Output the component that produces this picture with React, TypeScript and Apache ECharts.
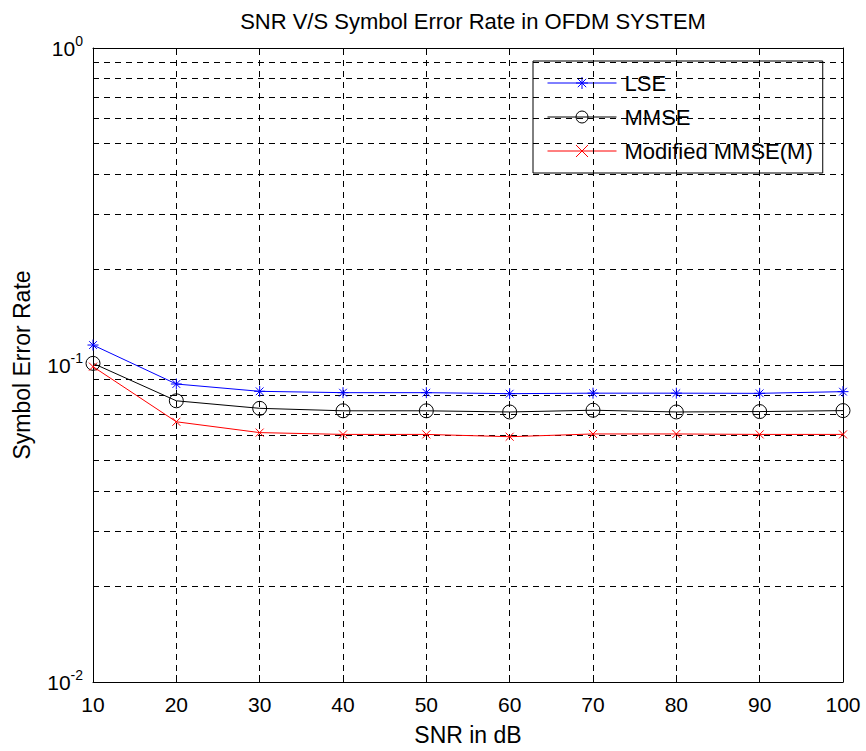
import React, { useEffect, useRef } from "react";
import * as echarts from "echarts";

const snr = [10, 20, 30, 40, 50, 60, 70, 80, 90, 100];
const lse = [0.1156, 0.0871, 0.0826, 0.0818, 0.0818, 0.0812, 0.0815, 0.0815, 0.0814, 0.0824];
const mmse = [0.1012, 0.0771, 0.073, 0.0717, 0.0717, 0.0711, 0.072, 0.0711, 0.0713, 0.0718];
const modMmse = [0.0988, 0.0662, 0.0612, 0.0604, 0.0604, 0.0594, 0.0606, 0.0606, 0.0604, 0.0604];
const yGrid = [0.02, 0.03, 0.04, 0.05, 0.06, 0.07, 0.08, 0.09, 0.1, 0.2, 0.3, 0.4, 0.5, 0.6, 0.7, 0.8, 0.9];
const xGrid = [20, 30, 40, 50, 60, 70, 80, 90];
const seriesNames = ["LSE", "MMSE", "Modified MMSE(M)"];
const titleText = "SNR V/S Symbol Error Rate in OFDM SYSTEM";
const xName = "SNR in dB";
const yName = "Symbol Error Rate";

const FONT = "'Liberation Sans', Arial, sans-serif";
const ASTERISK = "path://M0,-1L0,1M-1,0L1,0M-0.7,-0.7L0.7,0.7M-0.7,0.7L0.7,-0.7";
const CROSS = "path://M-1,-1L1,1M-1,1L1,-1";
const CIRCLE = "path://M1,0A1,1,0,1,1,-1,0A1,1,0,1,1,1,0Z";
const DASH = [6, 5];

export default function App() {
  const ref = useRef<HTMLDivElement>(null);
  useEffect(() => {
    if (!ref.current) return;
    const chart = echarts.init(ref.current, null, { renderer: "svg" });
    const pair = (ys: number[]) => snr.map((x, i) => [x, ys[i]]);
    chart.setOption({
      animation: false,
      backgroundColor: "#fff",
      textStyle: { fontFamily: FONT },
      title: {
        text: titleText,
        left: 468,
        top: 5,
        textAlign: "center",
        textStyle: { fontFamily: FONT, fontSize: 22, fontWeight: "normal", color: "#000" },
      },
      legend: {
        orient: "vertical",
        left: 533,
        top: 61,
        padding: [11, 10, 11, 14],
        itemWidth: 69,
        itemHeight: 15,
        itemGap: 12,
        borderColor: "#000",
        borderWidth: 1,
        backgroundColor: "#fff",
        data: seriesNames,
        itemStyle: { borderWidth: 1 },
        lineStyle: { width: 1 },
        textStyle: { fontFamily: FONT, fontSize: 22, color: "#000", lineHeight: 22, padding: [0, 0, 0, 3] },
      },
      grid: { left: 93, right: 23, top: 48, bottom: 69, show: false },
      xAxis: [
        {
          type: "value",
          min: 10,
          max: 100,
          interval: 10,
          name: xName,
          nameLocation: "middle",
          nameGap: 41,
          nameTextStyle: { fontFamily: FONT, fontSize: 23, color: "#000" },
          axisLine: { show: true, lineStyle: { color: "#000", width: 1 } },
          axisTick: { show: true, inside: true, length: 7, lineStyle: { color: "#000" } },
          axisLabel: { fontFamily: FONT, fontSize: 21, color: "#000", margin: 12 },
          splitLine: { show: false },
        },
        {
          type: "value",
          position: "top",
          min: 10,
          max: 100,
          interval: 10,
          axisLine: { show: true, lineStyle: { color: "#000", width: 1 } },
          axisTick: { show: true, inside: true, length: 7, lineStyle: { color: "#000" } },
          axisLabel: { show: false },
          splitLine: { show: false },
        },
      ],
      yAxis: [
        {
          type: "log",
          logBase: 10,
          min: 0.01,
          max: 1,
          name: yName,
          nameLocation: "middle",
          nameGap: 60,
          nameTextStyle: { fontFamily: FONT, fontSize: 23, color: "#000" },
          axisLine: { show: true, lineStyle: { color: "#000", width: 1 } },
          axisTick: { show: true, inside: true, length: 7, lineStyle: { color: "#000" } },
          axisLabel: {
            margin: 10,
            formatter: (v: number) => `{b|10}{s|${Math.round(Math.log10(v))}}`,
            rich: {
              b: { fontFamily: FONT, fontSize: 21, color: "#000" },
              s: { fontFamily: FONT, fontSize: 14, color: "#000", padding: [0, 0, 14, 0] },
            },
          },
          splitLine: { show: false },
        },
        {
          type: "log",
          logBase: 10,
          min: 0.01,
          max: 1,
          position: "right",
          axisLine: { show: true, lineStyle: { color: "#000", width: 1 } },
          axisTick: { show: true, inside: true, length: 7, lineStyle: { color: "#000" } },
          axisLabel: { show: false },
          splitLine: { show: false },
        },
      ],
      series: [
        {
          name: "grid-lines",
          type: "line",
          data: [],
          z: 1,
          silent: true,
          markLine: {
            silent: true,
            symbol: "none",
            label: { show: false },
            lineStyle: { type: DASH, color: "#000", width: 1 },
            data: [
              ...yGrid.map((v) => ({ yAxis: v })),
              ...xGrid.map((v) => ({ xAxis: v })),
            ],
          },
        },
        {
          name: seriesNames[0],
          type: "line",
          data: pair(lse),
          z: 5,
          symbol: ASTERISK,
          symbolSize: 11,
          lineStyle: { color: "#0000ff", width: 1 },
          itemStyle: { color: "#0000ff", borderColor: "#0000ff", borderWidth: 1 },
        },
        {
          name: seriesNames[1],
          type: "line",
          data: pair(mmse),
          z: 5,
          symbol: CIRCLE,
          symbolSize: 14,
          lineStyle: { color: "#000000", width: 1 },
          itemStyle: { color: "rgba(0,0,0,0)", borderColor: "#000000", borderWidth: 1 },
        },
        {
          name: seriesNames[2],
          type: "line",
          data: pair(modMmse),
          z: 5,
          symbol: CROSS,
          symbolSize: 8,
          lineStyle: { color: "#ff0000", width: 1 },
          itemStyle: { color: "#ff0000", borderColor: "#ff0000", borderWidth: 1 },
        },
      ],
    });
    return () => chart.dispose();
  }, []);
  return (
    <div
      ref={ref}
      style={{ position: "fixed", left: 0, top: 0, width: 866, height: 751, background: "#fff" }}
    />
  );
}
